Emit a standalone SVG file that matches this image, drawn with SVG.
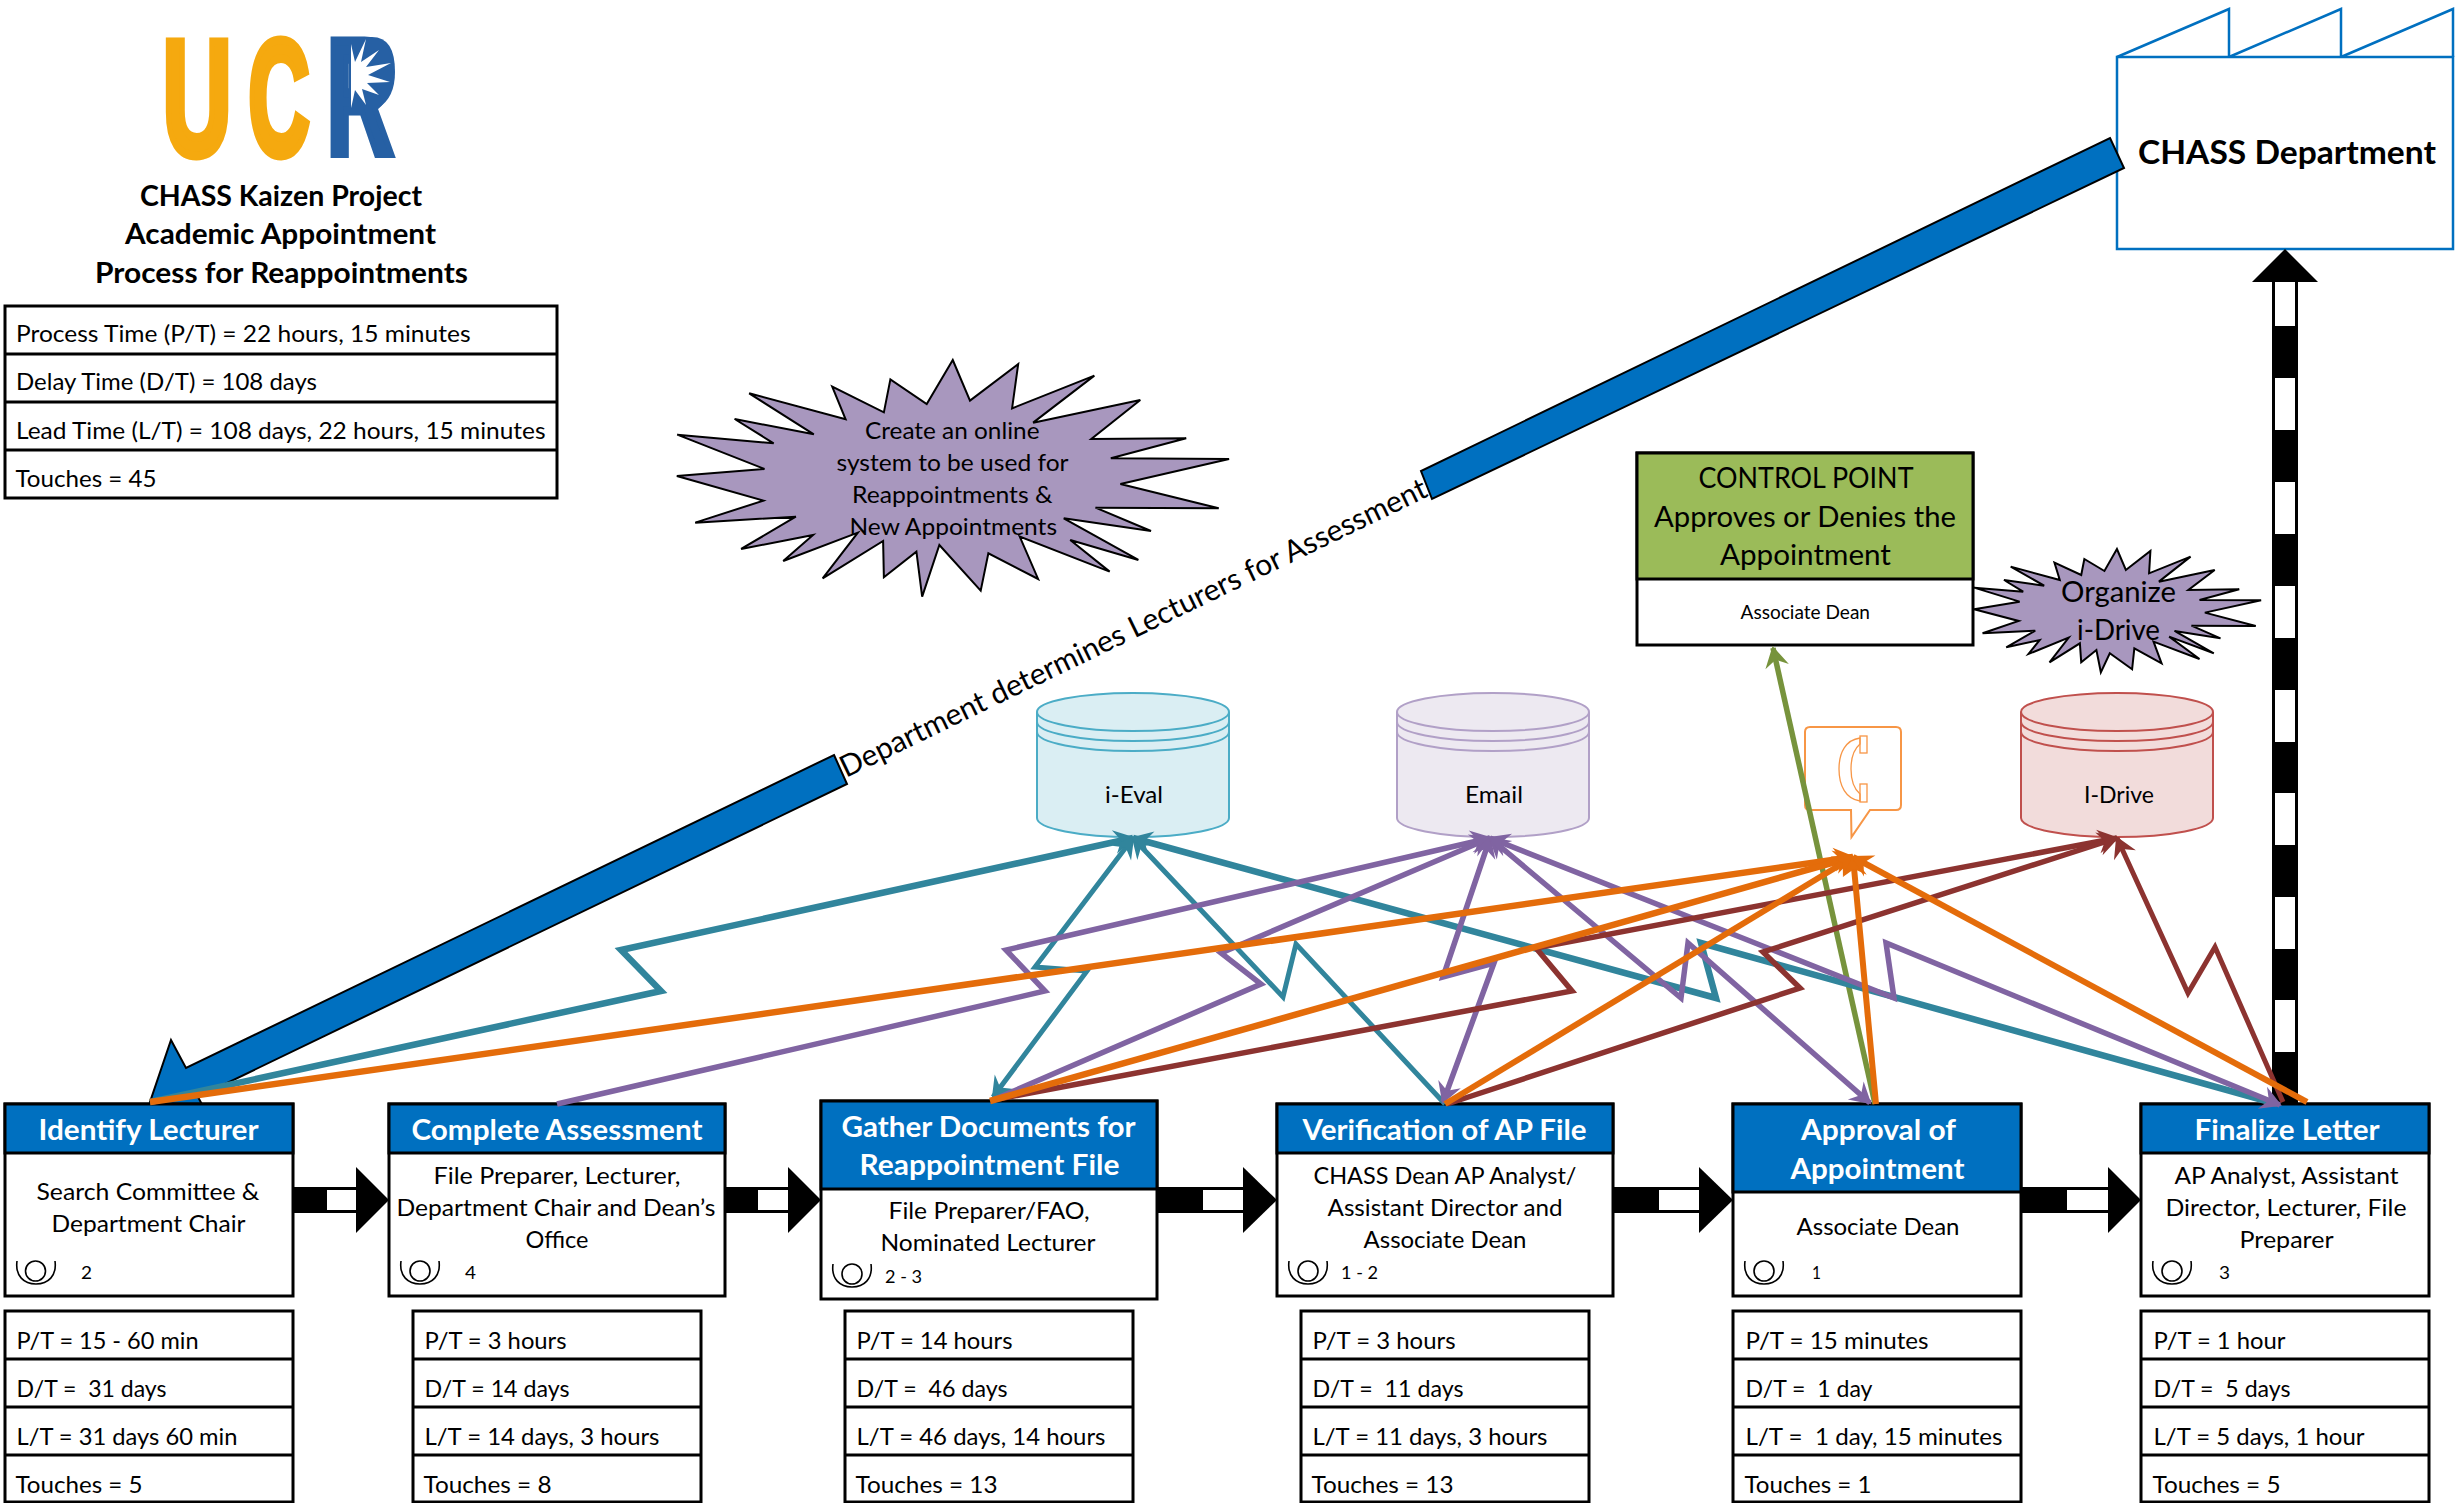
<svg xmlns="http://www.w3.org/2000/svg" width="2462" height="1503" viewBox="0 0 2462 1503">
<style>
text{font-family:Lato,"Liberation Sans",sans-serif;fill:#000;white-space:pre}
.s{font-size:23.5px}
.m{font-size:28px}
.h{font-size:28px;font-weight:700;fill:#fff}
.ti{font-size:28px;font-weight:700}
.n{font-size:18px}
.logo{font-family:"Liberation Sans",sans-serif;font-size:164px;font-weight:700;stroke-width:9}
.box{fill:#fff;stroke:#000;stroke-width:3}
.hd{fill:#0070C0;stroke:#000;stroke-width:3}
.ln{stroke:#000;stroke-width:3;fill:none}
.op{fill:none;stroke:#000;stroke-width:1.6}
.c{fill:none;stroke-linejoin:miter;stroke-width:5.500}
.teal{stroke:#31859C}.or{stroke:#E46C0A}.pu{stroke:#8064A2}.re{stroke:#8C3330}.gr{stroke:#77933C}
.tm{marker-end:url(#at)}.ts{marker-start:url(#at)}
.om{marker-end:url(#ao)}.pm{marker-end:url(#ap)}.ps{marker-start:url(#ap)}.rm{marker-end:url(#ar)}.rs{marker-start:url(#ar)}.gm{marker-end:url(#ag)}
.blue{fill:#0070C0;stroke:#000;stroke-width:2;stroke-linejoin:miter}
.burst{fill:#A897BE;stroke:#000;stroke-width:2;vector-effect:non-scaling-stroke;stroke-linejoin:miter}
.cyl{stroke-width:2}
</style>
<defs>
<marker id="at" markerUnits="userSpaceOnUse" markerWidth="26" markerHeight="28" viewBox="-22 -14 26 28" refX="0" refY="0" orient="auto-start-reverse"><path d="M2 0L-19 -12L-12 0L-19 12Z" fill="#31859C"/></marker>
<marker id="ao" markerUnits="userSpaceOnUse" markerWidth="26" markerHeight="28" viewBox="-22 -14 26 28" refX="0" refY="0" orient="auto-start-reverse"><path d="M2 0L-19 -12L-12 0L-19 12Z" fill="#E46C0A"/></marker>
<marker id="ap" markerUnits="userSpaceOnUse" markerWidth="26" markerHeight="28" viewBox="-22 -14 26 28" refX="0" refY="0" orient="auto-start-reverse"><path d="M2 0L-19 -12L-12 0L-19 12Z" fill="#8064A2"/></marker>
<marker id="ar" markerUnits="userSpaceOnUse" markerWidth="26" markerHeight="28" viewBox="-22 -14 26 28" refX="0" refY="0" orient="auto-start-reverse"><path d="M2 0L-19 -12L-12 0L-19 12Z" fill="#8C3330"/></marker>
<marker id="ag" markerUnits="userSpaceOnUse" markerWidth="26" markerHeight="28" viewBox="-22 -14 26 28" refX="0" refY="0" orient="auto-start-reverse"><path d="M2 0L-19 -12L-12 0L-19 12Z" fill="#77933C"/></marker>
</defs>
<rect width="2462" height="1503" fill="#fff"/>

<g id="logo">
<text class="logo" x="162.800" y="153.500" textLength="68.700" lengthAdjust="spacingAndGlyphs" style="fill:#F5A90F;stroke:#F5A90F">U</text>
<text class="logo" x="248.600" y="153.500" textLength="60.900" lengthAdjust="spacingAndGlyphs" style="fill:#F5A90F;stroke:#F5A90F">C</text>
<text class="logo" x="327" y="153.500" textLength="66" lengthAdjust="spacingAndGlyphs" style="fill:#2660A4;stroke:#2660A4">R</text>
<path d="M349 37H372Q395 37 395 72Q395 98 378 108H349Z" fill="#2660A4"/>
<polygon points="351,44 355,62 366,39 361,62 379,50 366,67 391,63 368,75 390,82 367,83 379,95 362,89 366,105 355,90 352,104 351,108" fill="#fff"/>
</g>

<g id="title">
<text class="ti" x="140" y="206" textLength="282" lengthAdjust="spacingAndGlyphs">CHASS Kaizen Project</text>
<text class="ti" x="125" y="244" textLength="311" lengthAdjust="spacingAndGlyphs">Academic Appointment</text>
<text class="ti" x="95" y="283" textLength="373" lengthAdjust="spacingAndGlyphs">Process for Reappointments</text>
</g>

<g id="totals">
<rect class="box" x="5" y="306" width="552" height="192"/>
<path class="ln" d="M5 354H557M5 402H557M5 450H557"/>
<text class="s" x="16" y="342" textLength="454.500" lengthAdjust="spacingAndGlyphs">Process Time (P/T) = 22 hours, 15 minutes</text>
<text class="s" x="16" y="390" textLength="301" lengthAdjust="spacingAndGlyphs">Delay Time (D/T) = 108 days</text>
<text class="s" x="16" y="439" textLength="529.500" lengthAdjust="spacingAndGlyphs">Lead Time (L/T) = 108 days, 22 hours, 15 minutes</text>
<text class="s" x="15.500" y="487" textLength="141" lengthAdjust="spacingAndGlyphs">Touches = 45</text>
</g>

<g id="chass-department">
<path d="M2117 57L2229 9V57L2341 9V57L2453 9V57" fill="#fff" stroke="#0070C0" stroke-width="2.500"/>
<rect x="2117" y="57" width="336" height="192" fill="#fff" stroke="#0070C0" stroke-width="2.500"/>
<text x="2138" y="164" textLength="298" lengthAdjust="spacingAndGlyphs" style="font-size:33px;font-weight:700">CHASS Department</text>
</g>

<g id="connectors-wide">
<polygon class="blue" points="2110,138 2124,168 1432,499 1421,471"/>
<polygon class="blue" points="834,755 847,784 198,1097 213,1125 150,1102 171,1040 186,1068"/>
<text transform="translate(846,778) rotate(-25.800)" x="0" y="0" textLength="648" lengthAdjust="spacingAndGlyphs" style="font-size:30px">Department determines Lecturers for Assessment</text>
<rect x="2272" y="282" width="26" height="822" fill="#000"/>
<g fill="#fff">
<rect x="2275" y="282" width="20" height="44"/><rect x="2275" y="378" width="20" height="52"/><rect x="2275" y="482" width="20" height="52"/><rect x="2275" y="586" width="20" height="52"/><rect x="2275" y="690" width="20" height="52"/><rect x="2275" y="793" width="20" height="52"/><rect x="2275" y="897" width="20" height="52"/><rect x="2275" y="1000" width="20" height="52"/>
</g>
<polygon points="2285,249 2318,282 2252,282" fill="#000"/>
<g id="push-1"><rect x="293" y="1187" width="65" height="26"/><rect x="327" y="1190" width="30" height="20" fill="#fff"/><polygon points="356,1167 389,1200 356,1233"/></g>
<g id="push-2"><rect x="725" y="1187" width="65" height="26"/><rect x="758" y="1190" width="31" height="20" fill="#fff"/><polygon points="788,1167 821,1200 788,1233"/></g>
<g id="push-3"><rect x="1157" y="1187" width="88" height="26"/><rect x="1203" y="1190" width="41" height="20" fill="#fff"/><polygon points="1243,1167 1277,1200 1243,1233"/></g>
<g id="push-4"><rect x="1613" y="1187" width="88" height="26"/><rect x="1659" y="1190" width="41" height="20" fill="#fff"/><polygon points="1699,1167 1733,1200 1699,1233"/></g>
<g id="push-5"><rect x="2021" y="1187" width="89" height="26"/><rect x="2067" y="1190" width="42" height="20" fill="#fff"/><polygon points="2108,1167 2141,1200 2108,1233"/></g>
</g>

<g id="identify-lecturer">
<rect class="box" x="5" y="1104" width="288" height="192"/><rect class="hd" x="5" y="1104" width="288" height="49"/>
<text class="h" x="38.500" y="1140" textLength="220" lengthAdjust="spacingAndGlyphs">Identify Lecturer</text>
<text class="s" x="36.500" y="1200" textLength="223" lengthAdjust="spacingAndGlyphs">Search Committee &amp;</text>
<text class="s" x="51.500" y="1232" textLength="194" lengthAdjust="spacingAndGlyphs">Department Chair</text>
<ellipse class="op" cx="35.500" cy="1271" rx="10" ry="10"/><path class="op" d="M17 1261C15 1276 24 1284 36 1284C48 1284 57 1276 55 1261"/>
<text class="n" x="81" y="1279" textLength="11" lengthAdjust="spacingAndGlyphs">2</text>
</g>
<g id="metrics-identify-lecturer">
<rect class="box" x="5" y="1311" width="288" height="191"/><path class="ln" d="M5 1359H293M5 1407H293M5 1455H293"/>
<text class="s" x="16.500" y="1349" textLength="182" lengthAdjust="spacingAndGlyphs">P/T = 15 - 60 min</text>
<text class="s" x="16.500" y="1397" textLength="150" lengthAdjust="spacingAndGlyphs">D/T =  31 days</text>
<text class="s" x="16.500" y="1445" textLength="221" lengthAdjust="spacingAndGlyphs">L/T = 31 days 60 min</text>
<text class="s" x="15.500" y="1493" textLength="127" lengthAdjust="spacingAndGlyphs">Touches = 5</text>
</g>

<g id="complete-assessment">
<rect class="box" x="389" y="1104" width="336" height="192"/><rect class="hd" x="389" y="1104" width="336" height="49"/>
<text class="h" x="411.500" y="1140" textLength="291" lengthAdjust="spacingAndGlyphs">Complete Assessment</text>
<text class="s" x="433.500" y="1184" textLength="247" lengthAdjust="spacingAndGlyphs">File Preparer, Lecturer,</text>
<text class="s" x="396.500" y="1216" textLength="319" lengthAdjust="spacingAndGlyphs">Department Chair and Dean’s</text>
<text class="s" x="525.500" y="1248" textLength="63" lengthAdjust="spacingAndGlyphs">Office</text>
<ellipse class="op" cx="420" cy="1271" rx="10" ry="10"/><path class="op" d="M401 1261C399 1276 408 1284 420 1284C432 1284 441 1276 439 1261"/>
<text class="n" x="465" y="1279" textLength="11" lengthAdjust="spacingAndGlyphs">4</text>
</g>
<g id="metrics-complete-assessment">
<rect class="box" x="413" y="1311" width="288" height="191"/><path class="ln" d="M413 1359H701M413 1407H701M413 1455H701"/>
<text class="s" x="424.500" y="1349" textLength="142" lengthAdjust="spacingAndGlyphs">P/T = 3 hours</text>
<text class="s" x="424.500" y="1397" textLength="145" lengthAdjust="spacingAndGlyphs">D/T = 14 days</text>
<text class="s" x="424.500" y="1445" textLength="235" lengthAdjust="spacingAndGlyphs">L/T = 14 days, 3 hours</text>
<text class="s" x="423.500" y="1493" textLength="128" lengthAdjust="spacingAndGlyphs">Touches = 8</text>
</g>

<g id="gather-documents">
<rect class="box" x="821" y="1101" width="336" height="198"/><rect class="hd" x="821" y="1101" width="336" height="88"/>
<text class="h" x="841.500" y="1137" textLength="294" lengthAdjust="spacingAndGlyphs">Gather Documents for</text>
<text class="h" x="859.500" y="1175" textLength="260" lengthAdjust="spacingAndGlyphs">Reappointment File</text>
<text class="s" x="888.500" y="1219" textLength="201" lengthAdjust="spacingAndGlyphs">File Preparer/FAO,</text>
<text class="s" x="880.500" y="1251" textLength="215" lengthAdjust="spacingAndGlyphs">Nominated Lecturer</text>
<ellipse class="op" cx="852" cy="1274" rx="10" ry="10"/><path class="op" d="M833 1264C831 1279 840 1287 852 1287C864 1287 873 1279 871 1264"/>
<text class="n" x="885" y="1283" textLength="37" lengthAdjust="spacingAndGlyphs">2 - 3</text>
</g>
<g id="metrics-gather-documents">
<rect class="box" x="845" y="1311" width="288" height="191"/><path class="ln" d="M845 1359H1133M845 1407H1133M845 1455H1133"/>
<text class="s" x="856.500" y="1349" textLength="156" lengthAdjust="spacingAndGlyphs">P/T = 14 hours</text>
<text class="s" x="856.500" y="1397" textLength="151" lengthAdjust="spacingAndGlyphs">D/T =  46 days</text>
<text class="s" x="856.500" y="1445" textLength="249" lengthAdjust="spacingAndGlyphs">L/T = 46 days, 14 hours</text>
<text class="s" x="855.500" y="1493" textLength="142" lengthAdjust="spacingAndGlyphs">Touches = 13</text>
</g>

<g id="verification">
<rect class="box" x="1277" y="1104" width="336" height="192"/><rect class="hd" x="1277" y="1104" width="336" height="49"/>
<text class="h" x="1302.500" y="1140" textLength="284" lengthAdjust="spacingAndGlyphs">Verification of AP File</text>
<text class="s" x="1313.500" y="1184" textLength="263" lengthAdjust="spacingAndGlyphs">CHASS Dean AP Analyst/</text>
<text class="s" x="1327.500" y="1216" textLength="235" lengthAdjust="spacingAndGlyphs">Assistant Director and</text>
<text class="s" x="1363.500" y="1248" textLength="163" lengthAdjust="spacingAndGlyphs">Associate Dean</text>
<ellipse class="op" cx="1308" cy="1271" rx="10" ry="10"/><path class="op" d="M1289 1261C1287 1276 1296 1284 1308 1284C1320 1284 1329 1276 1327 1261"/>
<text class="n" x="1341" y="1279" textLength="37" lengthAdjust="spacingAndGlyphs">1 - 2</text>
</g>
<g id="metrics-verification">
<rect class="box" x="1301" y="1311" width="288" height="191"/><path class="ln" d="M1301 1359H1589M1301 1407H1589M1301 1455H1589"/>
<text class="s" x="1312.500" y="1349" textLength="143" lengthAdjust="spacingAndGlyphs">P/T = 3 hours</text>
<text class="s" x="1312.500" y="1397" textLength="151" lengthAdjust="spacingAndGlyphs">D/T =  11 days</text>
<text class="s" x="1312.500" y="1445" textLength="235" lengthAdjust="spacingAndGlyphs">L/T = 11 days, 3 hours</text>
<text class="s" x="1311.500" y="1493" textLength="142" lengthAdjust="spacingAndGlyphs">Touches = 13</text>
</g>

<g id="approval">
<rect class="box" x="1733" y="1104" width="288" height="192"/><rect class="hd" x="1733" y="1104" width="288" height="88"/>
<text class="h" x="1801" y="1140" textLength="155" lengthAdjust="spacingAndGlyphs">Approval of</text>
<text class="h" x="1790.500" y="1179" textLength="174" lengthAdjust="spacingAndGlyphs">Appointment</text>
<text class="s" x="1796.500" y="1235" textLength="163" lengthAdjust="spacingAndGlyphs">Associate Dean</text>
<ellipse class="op" cx="1764" cy="1271" rx="10" ry="10"/><path class="op" d="M1745 1261C1743 1276 1752 1284 1764 1284C1776 1284 1785 1276 1783 1261"/>
<text class="n" x="1812" y="1279" textLength="9" lengthAdjust="spacingAndGlyphs">1</text>
</g>
<g id="metrics-approval">
<rect class="box" x="1733" y="1311" width="288" height="191"/><path class="ln" d="M1733 1359H2021M1733 1407H2021M1733 1455H2021"/>
<text class="s" x="1745.500" y="1349" textLength="183" lengthAdjust="spacingAndGlyphs">P/T = 15 minutes</text>
<text class="s" x="1745.500" y="1397" textLength="127" lengthAdjust="spacingAndGlyphs">D/T =  1 day</text>
<text class="s" x="1745.500" y="1445" textLength="257" lengthAdjust="spacingAndGlyphs">L/T =  1 day, 15 minutes</text>
<text class="s" x="1744.500" y="1493" textLength="127" lengthAdjust="spacingAndGlyphs">Touches = 1</text>
</g>

<g id="finalize-letter">
<rect class="box" x="2141" y="1104" width="288" height="192"/><rect class="hd" x="2141" y="1104" width="288" height="49"/>
<text class="h" x="2194.500" y="1140" textLength="185" lengthAdjust="spacingAndGlyphs">Finalize Letter</text>
<text class="s" x="2174.500" y="1184" textLength="224" lengthAdjust="spacingAndGlyphs">AP Analyst, Assistant</text>
<text class="s" x="2165.500" y="1216" textLength="241" lengthAdjust="spacingAndGlyphs">Director, Lecturer, File</text>
<text class="s" x="2239.500" y="1248" textLength="94" lengthAdjust="spacingAndGlyphs">Preparer</text>
<ellipse class="op" cx="2172" cy="1271" rx="10" ry="10"/><path class="op" d="M2153 1261C2151 1276 2160 1284 2172 1284C2184 1284 2193 1276 2191 1261"/>
<text class="n" x="2219" y="1279" textLength="11" lengthAdjust="spacingAndGlyphs">3</text>
</g>
<g id="metrics-finalize-letter">
<rect class="box" x="2141" y="1311" width="288" height="191"/><path class="ln" d="M2141 1359H2429M2141 1407H2429M2141 1455H2429"/>
<text class="s" x="2153.500" y="1349" textLength="132" lengthAdjust="spacingAndGlyphs">P/T = 1 hour</text>
<text class="s" x="2153.500" y="1397" textLength="137" lengthAdjust="spacingAndGlyphs">D/T =  5 days</text>
<text class="s" x="2153.500" y="1445" textLength="211" lengthAdjust="spacingAndGlyphs">L/T = 5 days, 1 hour</text>
<text class="s" x="2152.500" y="1493" textLength="128" lengthAdjust="spacingAndGlyphs">Touches = 5</text>
</g>

<g id="control-point">
<rect class="box" x="1637" y="453" width="336" height="192"/><rect x="1637" y="453" width="336" height="126" fill="#9BBB59" stroke="#000" stroke-width="3"/>
<text class="m" x="1698.500" y="488" textLength="215" lengthAdjust="spacingAndGlyphs">CONTROL POINT</text>
<text class="m" x="1654" y="527" textLength="302" lengthAdjust="spacingAndGlyphs">Approves or Denies the</text>
<text class="m" x="1720" y="565" textLength="171" lengthAdjust="spacingAndGlyphs">Appointment</text>
<text x="1740.500" y="619" textLength="129.500" lengthAdjust="spacingAndGlyphs" style="font-size:19.500px">Associate Dean</text>
</g>

<g id="kaizen-online-system">
<polygon class="burst" transform="translate(660,340) scale(0.3827,0.3333)" points="765,60 810,182 936,72 920,205 1135,107 975,248 1255,180 1127,297 1375,295 1178,355 1487,357 1203,432 1460,505 1138,503 1283,573 1055,535 1250,660 1072,600 1175,695 940,590 988,717 858,640 838,752 730,615 685,770 670,635 585,712 583,603 425,715 517,578 322,663 400,585 212,627 355,530 92,548 270,482 44,408 273,387 45,284 297,310 195,237 402,283 233,160 485,238 450,140 585,217 602,118 697,192"/>
<text class="s" x="865" y="439" textLength="174.500" lengthAdjust="spacingAndGlyphs">Create an online</text>
<text class="s" x="836.500" y="471" textLength="232" lengthAdjust="spacingAndGlyphs">system to be used for</text>
<text class="s" x="852" y="503" textLength="200.500" lengthAdjust="spacingAndGlyphs">Reappointments &amp;</text>
<text class="s" x="849.500" y="535" textLength="207.500" lengthAdjust="spacingAndGlyphs">New Appointments</text>
</g>

<g id="kaizen-organize">
<polygon class="burst" transform="translate(1600,420) scale(0.4464,0.3333)" points="1158,387 1178,450 1233,393 1230,460 1323,410 1252,485 1377,450 1318,510 1432,508 1343,540 1481,541 1355,578 1469,618 1325,617 1390,655 1287,633 1375,700 1275,650 1343,717 1240,665 1258,730 1197,685 1192,748 1142,700 1122,757 1112,690 1078,727 1075,670 1007,727 1050,653 960,702 985,660 910,682 975,632 857,640 938,603 838,568 940,545 838,503 948,515 905,480 995,497 920,440 1030,480 1018,428 1078,465 1085,417 1130,453"/>
<text class="m" x="2061" y="602" textLength="115" lengthAdjust="spacingAndGlyphs">Organize</text>
<text class="m" x="2077" y="640" textLength="83" lengthAdjust="spacingAndGlyphs">i-Drive</text>
</g>

<g id="i-eval" class="cyl" fill="#DAEEF3" stroke="#4BACC6">
<path d="M1037 712A96 19 0 0 1 1229 712V818A96 19 0 0 1 1037 818Z"/>
<path d="M1037 712A96 19 0 0 0 1229 712M1037 722A96 19 0 0 0 1229 722M1037 732A96 19 0 0 0 1229 732" fill="none"/>
<text class="s" x="1105" y="803" textLength="58" lengthAdjust="spacingAndGlyphs" stroke="none">i-Eval</text>
</g>
<g id="email" class="cyl" fill="#EDE9F1" stroke="#B1A0C7">
<path d="M1397 712A96 19 0 0 1 1589 712V818A96 19 0 0 1 1397 818Z"/>
<path d="M1397 712A96 19 0 0 0 1589 712M1397 722A96 19 0 0 0 1589 722M1397 732A96 19 0 0 0 1589 732" fill="none"/>
<text class="s" x="1465" y="803" textLength="58" lengthAdjust="spacingAndGlyphs" stroke="none">Email</text>
</g>
<g id="i-drive" class="cyl" fill="#F2DCDB" stroke="#C0504D">
<path d="M2021 712A96 19 0 0 1 2213 712V818A96 19 0 0 1 2021 818Z"/>
<path d="M2021 712A96 19 0 0 0 2213 712M2021 722A96 19 0 0 0 2213 722M2021 732A96 19 0 0 0 2213 732" fill="none"/>
<text class="s" x="2084" y="803" textLength="70" lengthAdjust="spacingAndGlyphs" stroke="none">I-Drive</text>
</g>
<g id="phone" fill="#fff" stroke="#F79646" stroke-width="2">
<path d="M1810 727H1896Q1901 727 1901 732V805Q1901 810 1896 810H1870L1851.500 837L1851 810H1810Q1805 810 1805 805V732Q1805 727 1810 727Z"/>
<path d="M1860 738C1846 740 1839 752 1839 769C1839 786 1846 799 1860 801L1860 794C1853 788 1851 778 1851 769C1851 760 1853 750 1860 744Z" fill="none" stroke-width="1.300"/>
<rect x="1860" y="736" width="7" height="17" fill="none" stroke-width="1.300"/><rect x="1860" y="784" width="7" height="18" fill="none" stroke-width="1.300"/>
</g>

<g id="connectors">
<polyline class="c gr gm" points="1875,1104 1773,648"/>
<polyline class="c teal tm" style="stroke-width:6.500" points="150,1102 661,991 621,950 1133,838"/>
<polyline class="c teal tm ts" style="stroke-width:5" points="993,1097 1087,971 1035,967 1133,838"/>
<polyline class="c teal tm" style="stroke-width:5" points="1445,1104 1296,944 1283,997 1133,838"/>
<polyline class="c teal tm" style="stroke-width:6.500" points="2277,1104 1701,943 1716,998 1133,838"/>
<polyline class="c pu pm" points="557,1104 1045,991 1006,950 1490,838"/>
<polyline class="c pu pm" points="993,1100 1261,984 1221,953 1490,838"/>
<polyline class="c pu pm ps" points="1443,1102 1494,963 1443,977 1490,838"/>
<polyline class="c pu pm ps" points="1490,838 1681,998 1688,943 1870,1103"/>
<polyline class="c pu pm ps" points="1490,838 1894,998 1886,943 2280,1105"/>
<polyline class="c re rm" points="993,1100 1572,991 1536,948 2117,838"/>
<polyline class="c re rm" points="1447,1104 1800,988 1763,952 2117,838"/>
<polyline class="c re rm" style="stroke-width:5" points="2283,1102 2215,947 2188,993 2117,838"/>
<polyline class="c or om" style="stroke-width:6.500" points="150,1102 1853,857"/>
<polyline class="c or om" style="stroke-width:6.500" points="990,1101 1853,857"/>
<polyline class="c or om" style="stroke-width:6" points="1445,1104 1853,857"/>
<polyline class="c or om" style="stroke-width:6" points="1876,1104 1853,857"/>
<polyline class="c or om" style="stroke-width:6" points="2307,1102 1853,857"/>
</g>
</svg>
